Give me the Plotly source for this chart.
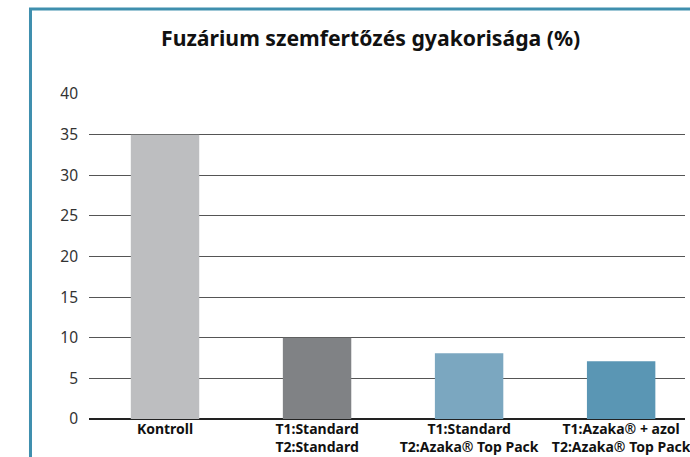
import plotly.graph_objects as go

categories = ["Kontroll", "T1:Standard<br>T2:Standard", "T1:Standard<br>T2:Azaka® Top Pack",
              "T1:Azaka® + azol<br>T2:Azaka® Top Pack"]
values = [35, 10, 8.1, 7.1]
colors = ["#BDBEC0", "#808285", "#7BA7C0", "#5A96B4"]
yticks = [0, 5, 10, 15, 20, 25, 30, 35, 40]
title = "Fuzárium szemfertőzés gyakorisága (%)"

W, H = 690, 457
L, R, T, B = 89, 0, 94, 38
pw, ph = W - L - R, H - T - B

fig = go.Figure(go.Bar(x=list(range(len(categories))), y=values, marker_color=colors,
                       marker_line_width=0, hoverinfo="skip"))

fig.update_layout(
    width=W, height=H,
    margin=dict(l=L, r=R, t=T, b=B, pad=0),
    paper_bgcolor="white", plot_bgcolor="white",
    bargap=0.55,
    showlegend=False,
    title=dict(text=title, x=(373 - L) / pw, xref="paper", xanchor="center",
               y=1 - 39 / H, yanchor="middle",
               font=dict(family="Noto Sans", size=21.2, color="#111111", weight=700)),
    xaxis=dict(tickmode="array", tickvals=list(range(len(categories))), ticktext=categories,
               range=[-0.5, 3.42], showgrid=False, showline=False, zeroline=False, ticks="",
               tickfont=dict(family="Noto Sans", size=14, color="#111111", weight=700),
               ticklabelstandoff=0, ticklabeloverflow="allow", fixedrange=True),
    yaxis=dict(range=[0, 40], tickvals=yticks, showgrid=True, gridcolor="#555555", gridwidth=1,
               zeroline=True, zerolinecolor="#222222", zerolinewidth=1.5, showline=False, ticks="",
               tickfont=dict(family="Noto Sans", size=15.5, color="#333333"),
               ticklabelstandoff=10, fixedrange=True),
    shapes=[dict(type="rect", xref="paper", yref="paper",
                 x0=(30 - L) / pw, x1=2.0, y0=-1.0, y1=(H - B - 9) / ph,
                 line=dict(color="#3F8FAE", width=3), fillcolor="rgba(0,0,0,0)", layer="below")],
)

fig.write_html("out.html", config={"displayModeBar": False},
               post_script="document.body.style.margin='0';document.body.style.overflow='hidden';")
